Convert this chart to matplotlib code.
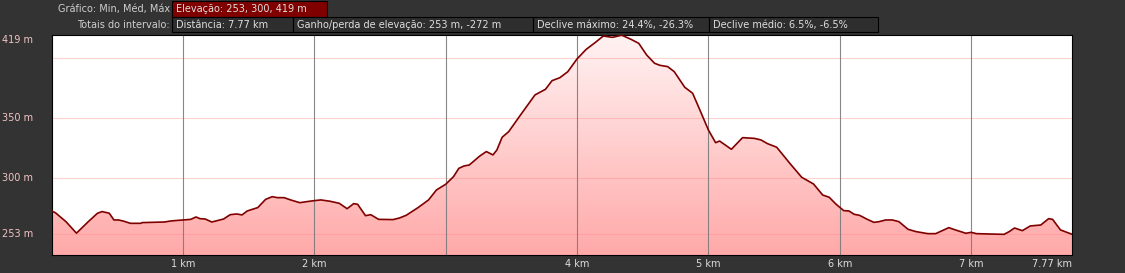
import matplotlib
matplotlib.use("Agg")
import matplotlib.pyplot as plt
from matplotlib.patches import Rectangle, Polygon
from matplotlib.colors import LinearSegmentedColormap
from matplotlib import transforms
import numpy as np


# NOTE : elevation profile
dist_km = [0, 0.03, 0.11, 0.19, 0.28, 0.35, 0.385, 0.44, 0.475, 0.51, 0.55, 0.60, 0.68, 0.69,
           0.86, 0.91, 1.0, 1.06, 1.10, 1.13, 1.17, 1.22, 1.26, 1.31, 1.36, 1.41, 1.45, 1.49,
           1.57, 1.63, 1.68, 1.72, 1.77, 1.82, 1.89, 1.945, 2.0, 2.05, 2.12, 2.19, 2.25, 2.30,
           2.33, 2.39, 2.43, 2.49, 2.60, 2.65, 2.70, 2.79, 2.87, 2.93, 3.0, 3.06, 3.10, 3.14,
           3.18, 3.26, 3.31, 3.36, 3.39, 3.43, 3.48, 3.57, 3.68, 3.76, 3.81, 3.87, 3.93, 4.0,
           4.07, 4.14, 4.20, 4.27, 4.34, 4.41, 4.47, 4.53, 4.59, 4.63, 4.69, 4.74, 4.82, 4.88,
           4.93, 5.0, 5.055, 5.085, 5.175, 5.26, 5.35, 5.40, 5.45, 5.52, 5.62, 5.71, 5.80,
           5.87, 5.92, 5.97, 6.03, 6.07, 6.11, 6.15, 6.21, 6.26, 6.30, 6.35, 6.40, 6.45, 6.52,
           6.58, 6.67, 6.73, 6.78, 6.83, 6.88, 6.96, 7.0, 7.04, 7.16, 7.25, 7.29, 7.33, 7.39,
           7.45, 7.53, 7.59, 7.62, 7.68, 7.77]
elev_m = [272.5, 271, 263.6, 254, 263.6, 270.6, 272, 270.6, 265, 265, 264, 262.2, 262.2, 262.8,
          263.3, 264.2, 265, 265.5, 267.5, 266.1, 265.8, 263.3, 264.4, 265.8, 269.4, 270, 269.2, 272.5,
          275.3, 282.2, 284.4, 283.6, 283.6, 281.7, 279.4, 280.3, 281.1, 281.7, 280.6, 278.9, 274.4, 278.6,
          278.1, 268.6, 269.4, 265.5, 265.3, 266.7, 268.9, 275.3, 281.7, 290, 294.7, 301.1, 308, 310,
          310.8, 318.3, 322, 319.2, 323.3, 333.9, 338.6, 352.5, 369.2, 373.9, 381.1, 383.6, 388.6, 399.2,
          407.2, 413, 418.3, 417.2, 419, 415.6, 412.2, 402.5, 395.6, 393.9, 392.8, 388.6, 375.6, 370.6,
          358, 340, 329.4, 330.8, 323.9, 333.6, 333, 331.7, 328.6, 325.6, 312.2, 300.6, 295,
          285.8, 283.9, 278.3, 272.8, 272.5, 269.7, 268.9, 265.5, 263, 263.6, 265, 265, 263.6, 257.2,
          255.3, 253.6, 253.6, 256.1, 258.6, 256.7, 253.9, 254.7, 253.6, 253.3, 253, 255.3, 258.3, 256.1,
          260, 260.8, 266.1, 265.5, 256.7, 253]

x_ticks = [1, 2, 4, 5, 6, 7, 7.77]
x_labels = ["1 km", "2 km", "4 km", "5 km", "6 km", "7 km", "7.77 km"]
x_grid = [1, 2, 3, 4, 5, 6, 7]
y_ticks = [253, 300, 350, 419]
y_labels = ["253 m", "300 m", "350 m", "419 m"]
y_grid = [253, 300, 350, 400]

row_titles = ["Gráfico: Min, Méd, Máx", "Totais do intervalo:"]
row1_boxes = ["Elevação: 253, 300, 419 m"]
row2_boxes = ["Distância: 7.77 km", "Ganho/perda de elevação: 253 m, -272 m",
              "Declive máximo: 24.4%, -26.3%", "Declive médio: 6.5%, -6.5%"]

W, H = 1125, 273
BG = "#333333"
TXT = "#dedede"
FS = 7

fig = plt.figure(figsize=(W / 100, H / 100), dpi=100, facecolor=BG)


def box(x0, y0, x1, y1, text, face):
    fig.add_artist(Rectangle((x0 / W, 1 - y1 / H), (x1 - x0) / W, (y1 - y0) / H,
                             transform=fig.transFigure, facecolor=face,
                             edgecolor="black", linewidth=0.8))
    fig.text((x0 + 4) / W, 1 - ((y0 + y1) / 2) / H, text, color=TXT, fontsize=FS,
             ha="left", va="center")


# NOTE : header rows
fig.text(170 / W, 1 - 9 / H, row_titles[0], color="#cfcfcf", fontsize=FS, ha="right", va="center")
fig.text(170 / W, 1 - 24.5 / H, row_titles[1], color="#cfcfcf", fontsize=FS, ha="right", va="center")
box(172, 1.5, 326.5, 17, row1_boxes[0], "#800000")
edges = [172, 293, 533, 709, 877.5]
for i, t in enumerate(row2_boxes):
    box(edges[i], 17, edges[i + 1], 32.3, t, "#2e2e2e")

# NOTE : profile axes
ax = fig.add_axes([51.5 / W, 18 / H, (1072.3 - 51.5) / W, (255 - 34.7) / H])
ax.set_facecolor("white")
ymin, ymax = 235.8, 419.4
ax.set_xlim(0, dist_km[-1])
ax.set_ylim(ymin, ymax)

verts = [(dist_km[0], ymin)] + list(zip(dist_km, elev_m)) + [(dist_km[-1], ymin)]
poly = Polygon(verts, closed=True, facecolor="none", edgecolor="none")
ax.add_patch(poly)
cmap = LinearSegmentedColormap.from_list("fill", ["#ffa9a9", "#fff3f3"])
grad = np.linspace(0, 1, 256).reshape(-1, 1)
im = ax.imshow(grad, cmap=cmap, origin="lower", aspect="auto",
               extent=[0, dist_km[-1], ymin, ymax], zorder=1)
im.set_clip_path(poly)

for g in y_grid:
    ax.axhline(g, color=(1, 0.55, 0.55), alpha=0.4, linewidth=0.8, zorder=2)
for g in x_grid:
    ax.axvline(g, color="#7a7a7a", alpha=0.9, linewidth=0.8, zorder=2)

ax.plot(dist_km, elev_m, color="#800000", linewidth=1.2, zorder=3)

ax.set_xticks([])
ax.set_yticks([])
for s in ax.spines.values():
    s.set_color("black")
    s.set_linewidth(0.8)

# NOTE : axis labels
ytrans = transforms.blended_transform_factory(fig.transFigure, ax.transData)
for v, lab in zip(y_ticks, y_labels):
    va = "top" if v == y_ticks[-1] else "center"
    ax.text(2 / W, v, lab, transform=ytrans, color="#f2c4c4", fontsize=FS,
            ha="left", va=va, clip_on=False)
for v, lab in zip(x_ticks, x_labels):
    ha = "right" if v == x_ticks[-1] else "center"
    ax.annotate(lab, (v, 0), xycoords=("data", "axes fraction"), xytext=(0, -6.5),
                textcoords="offset points", color=TXT, fontsize=FS, ha=ha, va="center",
                annotation_clip=False)

fig.savefig("out.png", dpi=100, facecolor=BG)
